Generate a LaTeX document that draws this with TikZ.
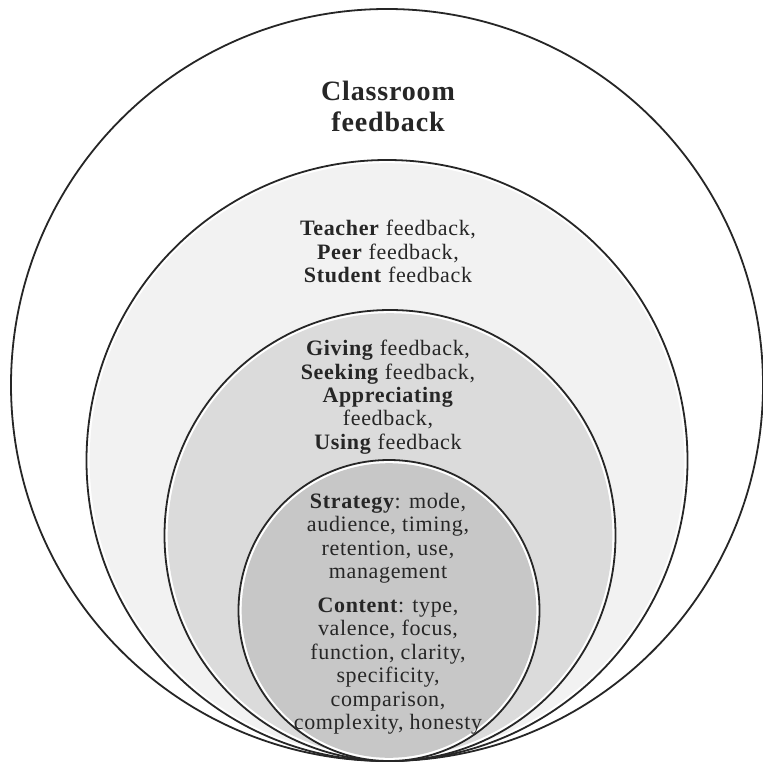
\documentclass[tikz,border=0pt]{standalone}
\usepackage{fontspec}
\setmainfont[LetterSpace=3]{Liberation Serif}
\definecolor{ringA}{gray}{1.00}
\definecolor{ringB}{gray}{0.95}
\definecolor{ringC}{gray}{0.86}
\definecolor{ringD}{gray}{0.78}
\tikzset{
  outline/.style={draw=black!85, line width=1.8bp},
  label/.style={align=center, inner sep=0pt, anchor=north, text=black!85,
    font=\fontsize{22bp}{23.4bp}\selectfont},
  title/.style={align=center, inner sep=0pt, anchor=north, text=black!85,
    font=\fontsize{28bp}{31bp}\selectfont\bfseries},
}
\newcommand{\ring}[4]{% center x, center y, radius, fill colour
  \fill[white] (#1,#2) circle [radius=#3 bp];
  \fill[#4] (#1,#2) circle [radius=#3 bp - 3.2bp];
  \draw[outline] (#1,#2) circle [radius=#3 bp];
}
\begin{document}
\begin{tikzpicture}[x=1bp, y=-1bp]
  \useasboundingbox (0,0) rectangle (763,765);
  \fill[white] (0,0) rectangle (763,765);

  % four nested discs, all touching at the bottom
  \ring{387}{385}{376}{ringA}
  \ring{387}{460.5}{300.5}{ringB}
  \ring{390}{535.5}{225.5}{ringC}
  \ring{389}{610.5}{150.5}{ringD}

  % texts, one block per ring
  \node[title] (classroom) at (388,81) {Classroom\\feedback};
  \node[label] (sources) at (388,220)
    {\textbf{Teacher} feedback,\\\textbf{Peer} feedback,\\\textbf{Student} feedback};
  \node[label] (actions) at (388,340)
    {\textbf{Giving} feedback,\\\textbf{Seeking} feedback,\\\textbf{Appreciating}\\feedback,\\\textbf{Using} feedback};
  \node[label] (aspects) at (388,493)
    {\textbf{Strategy}: mode,\\audience, timing,\\retention, use,\\management\\[10.5bp]
     \textbf{Content}: type,\\valence, focus,\\function, clarity,\\specificity,\\comparison,\\complexity, honesty};
\end{tikzpicture}
\end{document}
